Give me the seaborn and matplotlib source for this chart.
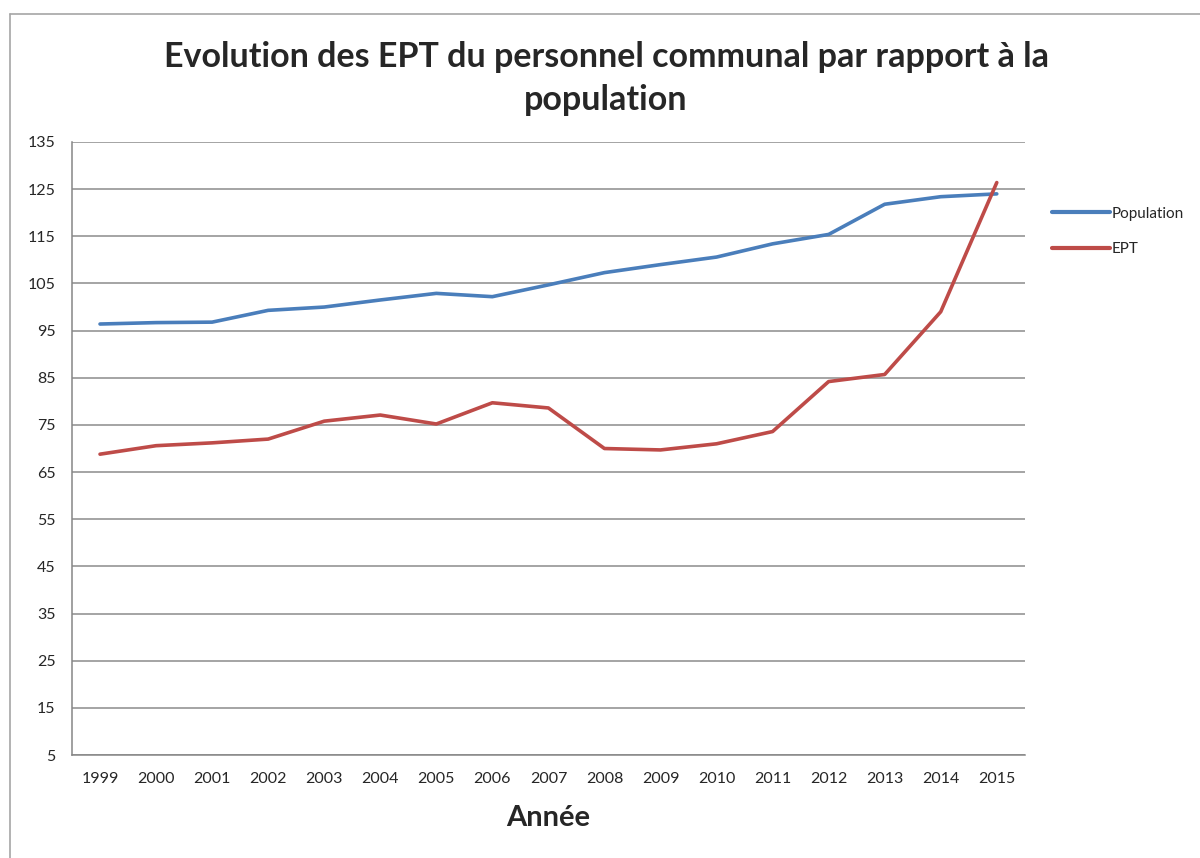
import matplotlib
matplotlib.use("Agg")
import matplotlib.pyplot as plt
import pandas as pd
import numpy as np
import seaborn as sns
from matplotlib.lines import Line2D

# values
years = [str(y) for y in range(1999, 2016)]
population = [96.4, 96.7, 96.8, 99.3, 100.0, 101.5, 102.9, 102.2, 104.7,
              107.3, 109.0, 110.6, 113.4, 115.4, 121.8, 123.4, 124.0]
ept = [68.8, 70.6, 71.2, 72.0, 75.8, 77.1, 75.2, 79.7, 78.6,
       70.0, 69.7, 71.0, 73.6, 84.2, 85.7, 99.0, 126.4]
series_names = ['Population', 'EPT']
series_colors = ['#4A7EBB', '#BE4B48']
y_ticks = list(range(5, 136, 10))

df = pd.DataFrame({'Année': years * 2,
                   'valeur': population + ept,
                   'serie': ['Population'] * len(years) + ['EPT'] * len(years)})
df['pos'] = list(range(len(years))) * 2

sns.set_style("white")
plt.rcParams['font.family'] = ['Lato', 'DejaVu Sans']

fig = plt.figure(figsize=(12, 8.58), dpi=100)
ax = fig.add_axes([0.06, 0.12, 0.794, 0.7145])

sns.lineplot(data=df, x='pos', y='valeur', hue='serie', hue_order=series_names,
             palette=series_colors, linewidth=2.6, ax=ax, legend=False, sort=False)

ax.set_ylim(5, 135)
ax.set_yticks(y_ticks)
ax.set_yticklabels([str(t) for t in y_ticks], fontsize=11.5)
ax.set_xlim(-0.5, len(years) - 0.5)
ax.set_xticks(np.arange(-0.5, len(years), 1.0))
ax.set_xticklabels([])
ax.set_xticks(range(len(years)), minor=True)
ax.set_xticklabels(years, minor=True, fontsize=11.5)
ax.tick_params(axis='x', which='minor', length=0, pad=12)
ax.tick_params(axis='x', which='major', length=6, color='#868686', direction='out')
ax.tick_params(axis='y', length=6, color='#868686', direction='out', pad=6)
ax.grid(axis='y', color='#8c8c8c', linewidth=1.1)
ax.set_axisbelow(True)
for s in ['top', 'right']:
    ax.spines[s].set_visible(False)
for s in ['left', 'bottom']:
    ax.spines[s].set_color('#868686')
    ax.spines[s].set_linewidth(1.1)

ax.set_xlabel('Année', fontsize=21, fontweight='bold', labelpad=14)
ax.set_ylabel('')

fig.suptitle('Evolution des EPT du personnel communal par rapport à la\npopulation',
             fontsize=24.5, fontweight='bold', x=0.505, y=0.952, linespacing=1.4)

handles = [Line2D([], [], color=c, linewidth=3) for c in series_colors]
fig.legend(handles, series_names, loc='upper left', bbox_to_anchor=(0.865, 0.775),
           frameon=False, fontsize=11, handlelength=3.8, handletextpad=0.15,
           labelspacing=1.4)

# chart frame edges
fig.add_artist(Line2D([0.0085, 0.0085], [0, 0.984], color='#a6a6a6', linewidth=1.2))
fig.add_artist(Line2D([0.0085, 1], [0.984, 0.984], color='#a6a6a6', linewidth=1.2))

fig.savefig('out.png', dpi=100)
